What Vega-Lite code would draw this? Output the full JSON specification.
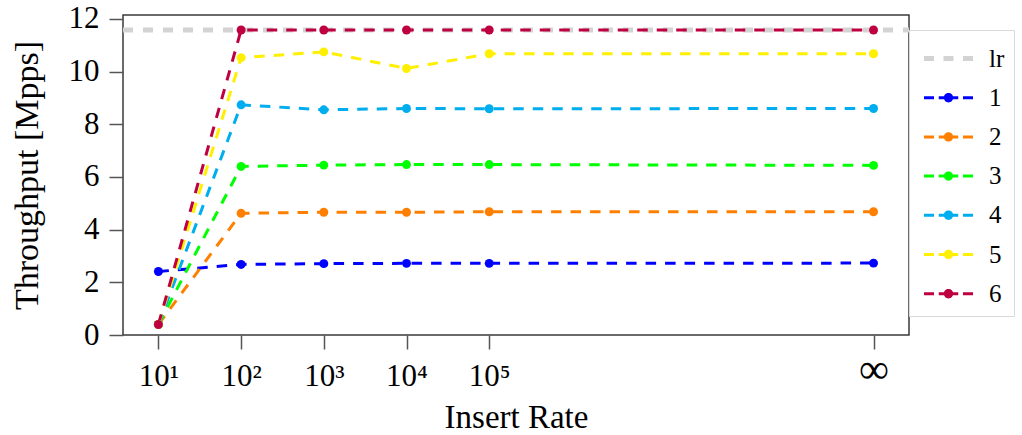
{
  "$schema": "https://vega.github.io/schema/vega-lite/v6.json",
  "width": 786,
  "height": 320,
  "padding": {"left": 123, "top": 15, "right": 113, "bottom": 100},
  "autosize": {"type": "none"},
  "background": "white",
  "config": {
    "font": "Liberation Serif",
    "view": {"stroke": "#3a3a3a", "strokeWidth": 1.5},
    "axis": {
      "grid": false,
      "domain": false,
      "tickColor": "#555555",
      "tickWidth": 1.5,
      "tickSize": 14,
      "labelColor": "black",
      "titleColor": "black",
      "labelFont": "Liberation Serif",
      "titleFont": "Liberation Serif",
      "titleFontWeight": "normal",
      "labelFontSize": 31,
      "titleFontSize": 34
    }
  },
  "data": {
    "values": [
      {"series": "lr", "rate": 0.572, "mpps": 11.58},
      {"series": "lr", "rate": 10.076, "mpps": 11.58},
      {"series": "1", "rate": 1, "mpps": 2.41},
      {"series": "1", "rate": 2, "mpps": 2.68},
      {"series": "1", "rate": 3, "mpps": 2.71},
      {"series": "1", "rate": 4, "mpps": 2.72},
      {"series": "1", "rate": 5, "mpps": 2.72},
      {"series": "1", "rate": 9.647, "mpps": 2.73},
      {"series": "2", "rate": 1, "mpps": 0.4},
      {"series": "2", "rate": 2, "mpps": 4.62},
      {"series": "2", "rate": 3, "mpps": 4.66},
      {"series": "2", "rate": 4, "mpps": 4.66},
      {"series": "2", "rate": 5, "mpps": 4.68},
      {"series": "2", "rate": 9.647, "mpps": 4.68},
      {"series": "3", "rate": 1, "mpps": 0.4},
      {"series": "3", "rate": 2, "mpps": 6.4},
      {"series": "3", "rate": 3, "mpps": 6.45},
      {"series": "3", "rate": 4, "mpps": 6.47},
      {"series": "3", "rate": 5, "mpps": 6.47},
      {"series": "3", "rate": 9.647, "mpps": 6.44},
      {"series": "4", "rate": 1, "mpps": 0.4},
      {"series": "4", "rate": 2, "mpps": 8.74},
      {"series": "4", "rate": 3, "mpps": 8.55},
      {"series": "4", "rate": 4, "mpps": 8.6},
      {"series": "4", "rate": 5, "mpps": 8.59},
      {"series": "4", "rate": 9.647, "mpps": 8.6},
      {"series": "5", "rate": 1, "mpps": 0.4},
      {"series": "5", "rate": 2, "mpps": 10.53},
      {"series": "5", "rate": 3, "mpps": 10.75},
      {"series": "5", "rate": 4, "mpps": 10.12},
      {"series": "5", "rate": 5, "mpps": 10.68},
      {"series": "5", "rate": 9.647, "mpps": 10.68},
      {"series": "6", "rate": 1, "mpps": 0.4},
      {"series": "6", "rate": 2, "mpps": 11.58},
      {"series": "6", "rate": 3, "mpps": 11.58},
      {"series": "6", "rate": 4, "mpps": 11.58},
      {"series": "6", "rate": 5, "mpps": 11.58},
      {"series": "6", "rate": 9.647, "mpps": 11.58}
    ]
  },
  "encoding": {
    "x": {
      "field": "rate",
      "type": "quantitative",
      "scale": {"domain": [0.572, 10.076], "nice": false, "zero": false},
      "axis": {
        "title": "Insert Rate",
        "titleFontSize": 33,
        "values": [1, 2, 3, 4, 5, 9.647],
        "labelExpr": "datum.value > 9 ? '∞' : '10' + ['', '¹', '²', '³', '⁴', '⁵'][datum.value]",
        "labelBaseline": "middle",
        "labelFontSize": {"condition": {"test": "datum.value > 9", "value": 42}, "value": 31},
        "labelPadding": {"condition": {"test": "datum.value > 9", "value": 20}, "value": 27},
        "titlePadding": 10,
        "labelFlush": false,
        "labelOverlap": false
      }
    },
    "y": {
      "field": "mpps",
      "type": "quantitative",
      "scale": {"domain": [0, 12.15], "nice": false, "zero": false},
      "axis": {
        "title": "Throughput [Mpps]",
        "values": [0, 2, 4, 6, 8, 10, 12],
        "labelPadding": 10,
        "titlePadding": 24,
        "labelFlush": false,
        "labelOverlap": false
      }
    },
    "color": {
      "field": "series",
      "type": "nominal",
      "scale": {
        "domain": ["lr", "1", "2", "3", "4", "5", "6"],
        "range": ["#D3D3D3", "#0000FF", "#FF8000", "#00FF00", "#00AEEF", "#FFEF00", "#BF0040"]
      },
      "legend": {
        "title": null,
        "orient": "none",
        "legendX": 786,
        "legendY": 15,
        "padding": 9,
        "strokeColor": "#DADADA",
        "fillColor": "white",
        "symbolSize": 1521,
        "symbolStrokeWidth": 0,
        "symbolOffset": 11,
        "rowPadding": 6.2,
        "labelFont": "Liberation Serif",
        "labelFontSize": 25,
        "labelColor": "black",
        "labelOffset": 21,
        "labelExpr": "datum.label + '\u00a0\u00a0\u00a0\u00a0\u00a0\u00a0\u00a0\u00a0\u00a0\u00a0\u00a0\u00a0\u00a0\u00a0\u00a0\u00a0\u00a0\u00a0\u00a0\u00a0'",
        "encode": {
          "symbols": {
            "update": {
              "shape": [
                {
                  "test": "datum.value === 'lr'",
                  "value": "M-1.256,-0.13H-0.743V0.13H-1.256Z M-0.256,-0.13H0.256V0.13H-0.256Z M0.743,-0.13H1.256V0.13H0.743Z"
                },
                {
                  "value": "M-1.256,-0.077H-0.743V0.077H-1.256Z M-0.5,-0.077H-0.22V0.077H-0.5Z M0.24,0A0.24,0.24,0,1,1,-0.24,0A0.24,0.24,0,1,1,0.24,0Z M0.22,-0.077H0.5V0.077H0.22Z M0.743,-0.077H1.256V0.077H0.743Z"
                }
              ],
              "fill": {"scale": "color", "field": "value"},
              "stroke": {"value": "transparent"},
              "strokeWidth": {"value": 0},
              "strokeDash": {"value": []},
              "opacity": {"value": 1}
            }
          }
        }
      }
    }
  },
  "layer": [
    {
      "transform": [{"filter": "datum.series === 'lr'"}],
      "mark": {"type": "line", "strokeWidth": 5, "strokeDash": [10, 10], "clip": true}
    },
    {
      "transform": [{"filter": "datum.series !== 'lr'"}],
      "mark": {"type": "line", "strokeWidth": 3, "strokeDash": [10.5, 9], "clip": true}
    },
    {
      "transform": [{"filter": "datum.series !== 'lr'"}],
      "mark": {"type": "point", "filled": true, "size": 80, "opacity": 1}
    }
  ]
}
